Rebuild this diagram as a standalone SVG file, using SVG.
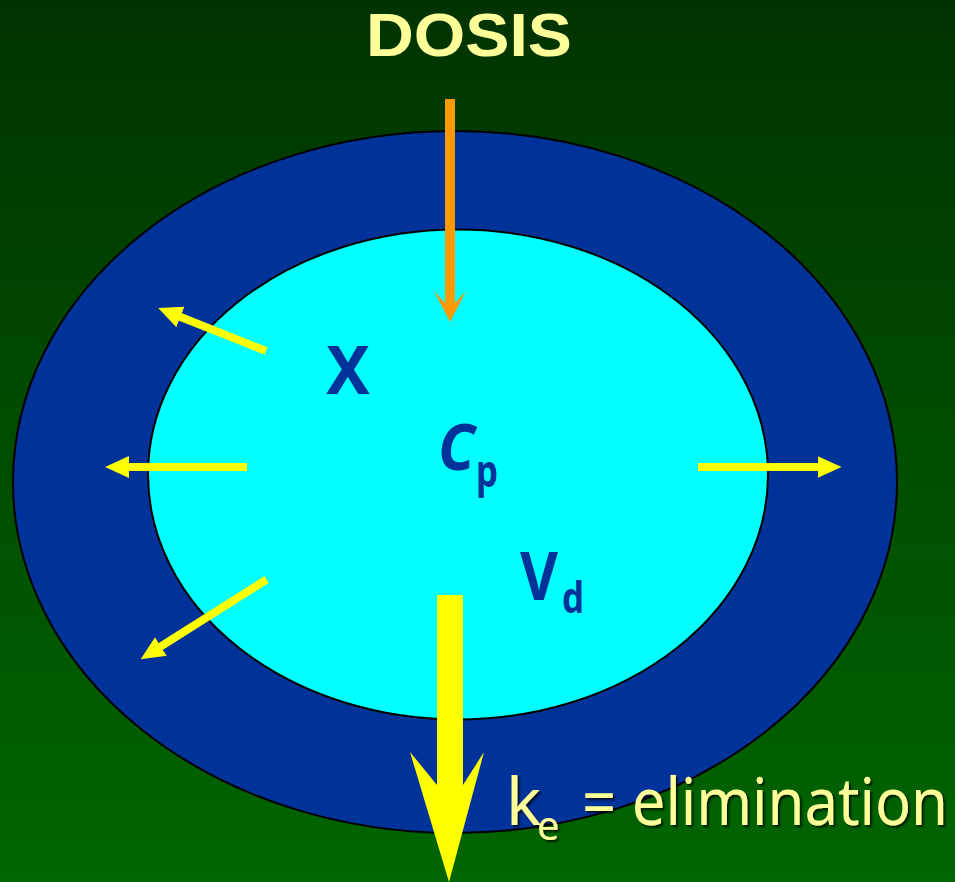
<svg xmlns="http://www.w3.org/2000/svg" width="955" height="882" viewBox="0 0 955 882">
<style>
.lbl{font-family:"Comic Sans MS","Noto Sans","Liberation Sans",sans-serif;}
.pale{fill:#FFFF99;}
.blue{fill:#003399;font-weight:bold;}
.ell{stroke:#000;stroke-width:2;}
.yarr{stroke:#FFFF00;stroke-width:8;fill:none;}
</style>
<defs>
<linearGradient id="bg" x1="0" y1="0" x2="0" y2="1">
<stop offset="0" stop-color="#003300"/>
<stop offset="1" stop-color="#006600"/>
</linearGradient>
<marker id="yhead" markerUnits="userSpaceOnUse" markerWidth="24" markerHeight="22" viewBox="0 0 24 22" refX="0.5" refY="11" orient="auto">
<path d="M0,0 L24,11 L0,22 Z" fill="#FFFF00"/>
</marker>
<filter id="sh" x="-10%" y="-20%" width="120%" height="150%">
<feDropShadow dx="2" dy="2" stdDeviation="0.8" flood-color="#000" flood-opacity="0.75"/>
</filter>
</defs>
<rect width="955" height="882" fill="url(#bg)"/>
<g id="outer">
<ellipse class="ell" cx="455" cy="482" rx="442" ry="351" fill="#003399"/>
</g>
<g id="inner">
<ellipse class="ell" cx="458" cy="474.5" rx="310" ry="245" fill="#00FFFF"/>
</g>
<g id="dosis">
<text class="pale" x="366" y="56" font-family="'Liberation Sans',Arial,sans-serif" font-size="61" font-weight="bold" textLength="206" lengthAdjust="spacingAndGlyphs">DOSIS</text>
</g>
<g id="x-label">
<text class="lbl blue" x="326" y="394" font-size="66" textLength="44" lengthAdjust="spacingAndGlyphs">X</text>
</g>
<g id="cp-label">
<text class="lbl blue" x="438" y="470" font-size="65" font-style="italic"><tspan textLength="37" lengthAdjust="spacingAndGlyphs">C</tspan><tspan x="476" y="487" font-size="44" font-style="normal" textLength="22" lengthAdjust="spacingAndGlyphs">p</tspan></text>
</g>
<g id="vd-label">
<text class="lbl blue" x="520" y="600" font-size="66"><tspan textLength="38" lengthAdjust="spacingAndGlyphs">V</tspan><tspan x="562" y="613" font-size="43" textLength="22" lengthAdjust="spacingAndGlyphs">d</tspan></text>
</g>
<g id="connectors">
<polygon points="445,99 455,99 455,303 466,291 450,322 434,291 445,303" fill="#FF9900"/>
<polygon points="437,595 463,595 463,785 484,752 449,882 410,752 437,785" fill="#FFFF00"/>
<line class="yarr" x1="266" y1="351" x2="180" y2="316.8" marker-end="url(#yhead)"/>
<line class="yarr" x1="247" y1="467" x2="128.5" y2="467" marker-end="url(#yhead)"/>
<line class="yarr" x1="698" y1="467" x2="818" y2="467" marker-end="url(#yhead)"/>
<line class="yarr" x1="266.5" y1="579.5" x2="160.5" y2="646.7" marker-end="url(#yhead)"/>
</g>
<g id="ke-label" filter="url(#sh)">
<text class="lbl pale" x="506" y="825" font-size="66">k<tspan x="537" y="840" font-size="40">e</tspan><tspan x="582" y="825" textLength="366" lengthAdjust="spacingAndGlyphs">= elimination</tspan></text>
</g>
</svg>
